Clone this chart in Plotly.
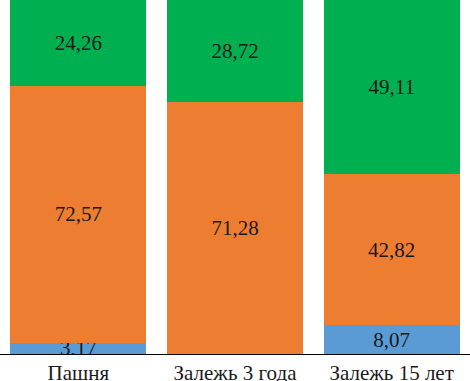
import plotly.graph_objects as go

categories = ["Пашня", "Залежь 3 года", "Залежь 15 лет"]
blue_vals = [3.17, 0, 8.07]
orange_vals = [72.57, 71.28, 42.82]
green_vals = [24.26, 28.72, 49.11]

def fmt(v):
    return "" if v == 0 else f"{v:.2f}".replace(".", ",")

FAMILY = "'Times New Roman', 'Liberation Serif', 'DejaVu Serif', serif"
font = dict(family=FAMILY, size=21, color="#1a1a1a")

fig = go.Figure()
for vals, color in [(blue_vals, "#5B9BD5"), (orange_vals, "#ED7D31"), (green_vals, "#00B050")]:
    fig.add_trace(go.Bar(
        x=categories, y=vals, marker=dict(color=color, line=dict(width=0)),
        text=[fmt(v) for v in vals], textposition="inside", insidetextanchor="middle",
        constraintext="none", textfont=font, width=0.87, hoverinfo="skip",
    ))

fig.update_layout(
    barmode="stack", showlegend=False, width=470, height=381,
    margin=dict(l=0, r=0, t=0, b=27),
    font=dict(family=FAMILY),
    plot_bgcolor="white", paper_bgcolor="white",
    xaxis=dict(showline=True, linecolor="black", linewidth=1, ticks="",
               ticklabelstandoff=0, automargin=False,
               tickfont=dict(family=FAMILY, size=21, color="#1a1a1a")),
    yaxis=dict(range=[0, 100], visible=False, showgrid=False, fixedrange=True),
)
fig.write_html("out.html", config={"displayModeBar": False},
               post_script="document.body.style.margin='0';")
